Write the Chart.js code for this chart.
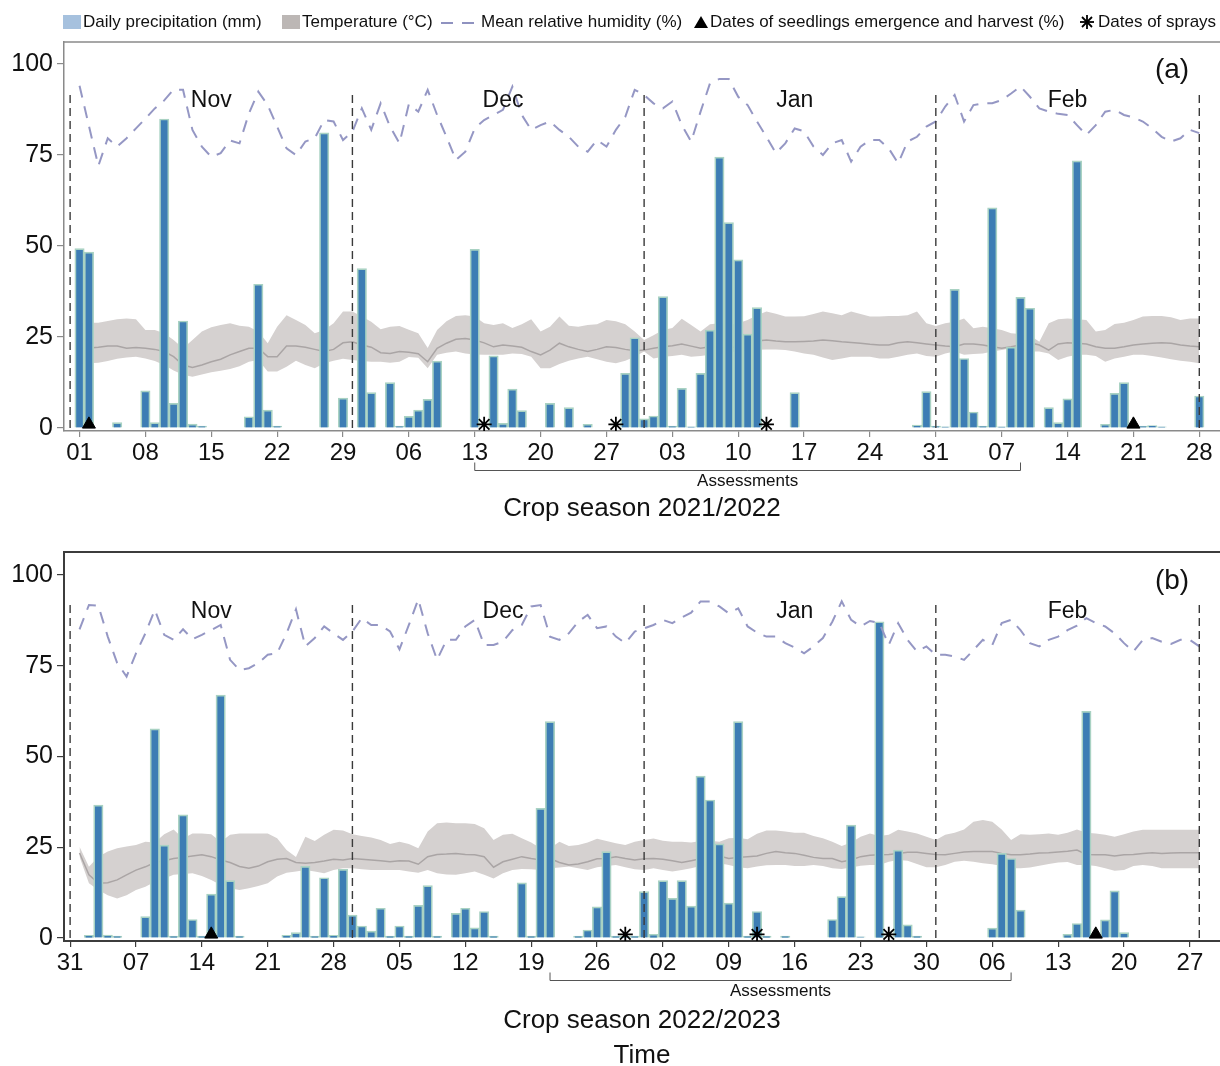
<!DOCTYPE html>
<html>
<head>
<meta charset="utf-8">
<title>Weather during two crop seasons</title>
<script src="https://cdn.jsdelivr.net/npm/chart.js@4.4.1/dist/chart.umd.min.js"></script>
<style>
  html, body { margin: 0; padding: 0; background: #fff; }
  body { width: 1220px; height: 1066px; position: relative; overflow: hidden;
         font-family: "Liberation Sans", Arial, sans-serif; color: #111; }
  canvas { position: absolute; left: 0; }
  #season-a { top: 0; }
  #season-b { top: 530px; }
  #legend { position: absolute; top: 12px; left: 0; width: 1220px; height: 22px;
            font-size: 17px; line-height: 20px; z-index: 2; }
  #legend .item { position: absolute; top: 0; white-space: nowrap; display: flex; align-items: center; }
  #legend .sw { display: inline-block; width: 18px; height: 14px; margin-right: 2px; }
  #legend svg { display: block; }
</style>
</head>
<body>

<div id="legend">
  <span class="item" style="left:63px"><i class="sw" style="background:#a6c1de"></i>Daily precipitation (mm)</span>
  <span class="item" style="left:282px"><i class="sw" style="background:#bcb7b5"></i>Temperature (°C)</span>
  <span class="item" style="left:440px">
    <svg width="41" height="10"><line x1="1" y1="6" x2="13" y2="6" stroke="#8f92c0" stroke-width="2"/><line x1="22" y1="6" x2="34" y2="6" stroke="#8f92c0" stroke-width="2"/></svg>Mean relative humidity (%)</span>
  <span class="item" style="left:694px">
    <svg width="16" height="14"><polygon points="7,1 14,13 0,13" fill="#000"/></svg>Dates of seedlings emergence and harvest (%)</span>
  <span class="item" style="left:1079px">
    <svg width="19" height="16"><g stroke="#000" stroke-width="1.8"><line x1="8" y1="1" x2="8" y2="15"/><line x1="1" y1="8" x2="15" y2="8"/><line x1="3" y1="3" x2="13" y2="13"/><line x1="13" y1="3" x2="3" y2="13"/></g></svg>Dates of sprays</span>
</div>

<canvas id="season-a" width="1220" height="530"></canvas>
<canvas id="season-b" width="1220" height="546"></canvas>

<script>
// Days are counted from 31 October (day 0) in both seasons.

// ---- shared axis layout ----
const monthEdges = [0, 30, 61, 92, 120];
const monthNames = ['Nov', 'Dec', 'Jan', 'Feb'];
const monthLabelDays = [15, 46, 77, 106];
const yTicks = [0, 25, 50, 75, 100];

// ---- season 2021/2022 ----
const tickDaysA = [1, 8, 15, 22, 29, 36, 43, 50, 57, 64, 71, 78, 85, 92, 99, 106, 113, 120];
const tickLabelsA = ['01', '08', '15', '22', '29', '06', '13', '20', '27', '03', '10', '17', '24', '31', '07', '14', '21', '28'];

const rainDaysA = [1, 2, 5, 8, 9, 10, 11, 12, 13, 14, 19, 20, 21, 22, 27, 29, 31, 32, 34, 35, 36, 37, 38, 39,
  43, 45, 46, 47, 48, 51, 53, 55, 59, 60, 61, 62, 63, 64, 65, 66, 67, 68, 69, 70, 71, 72, 73, 77,
  90, 91, 92, 93, 94, 95, 96, 97, 98, 99, 100, 101, 102, 104, 105, 106, 107, 110, 111, 112, 113, 114, 115, 116, 120];
const rainA = [49.3, 48.3, 1.5, 10.2, 1.5, 84.9, 6.8, 29.4, 1.1, 0.5, 3.1, 39.5, 4.9, 0.5, 81.1, 8.2, 43.8, 9.7, 12.5, 0.5, 3.2, 4.9, 7.9, 18.4,
  49.1, 19.8, 1.3, 10.7, 4.8, 6.8, 5.6, 1.0, 15.0, 24.8, 2.5, 3.3, 36.1, 0.5, 10.9, 0.3, 15.0, 26.9, 74.4, 56.4, 46.2, 25.8, 33.1, 9.7,
  0.8, 10.0, 0.5, 0.3, 38.1, 19.1, 4.4, 0.5, 60.5, 0.3, 22.2, 35.9, 32.9, 5.6, 1.5, 8.0, 73.4, 1.0, 9.5, 12.5, 0.5, 0.5, 0.7, 0.3, 8.8];

// daily values, day 1 .. day 120
const tMaxA = [28.5, 28.9, 28.9, 29.4, 29.9, 30.1, 29.9, 26.9, 26.9, 26.0,
  24.2, 21.9, 24.2, 26.5, 27.7, 28.3, 28.8, 28.1, 27.8, 26.5,
  23.3, 27.8, 31.0, 29.7, 28.3, 26.0, 26.9, 28.8, 32.0, 32.0,
  30.6, 29.2, 27.1, 27.8, 28.0, 27.0, 26.0, 22.0, 26.9, 29.3,
  30.8, 31.0, 30.6, 28.8, 28.3, 28.8, 27.5, 28.5, 29.9, 26.5,
  27.8, 30.6, 28.1, 27.8, 28.3, 28.5, 29.7, 29.3, 28.5, 26.5,
  24.2, 25.5, 26.9, 27.5, 30.0, 28.3, 26.5, 28.5, 28.8, 28.3,
  28.8, 29.7, 31.0, 32.0, 31.4, 30.6, 30.6, 30.7, 31.3, 32.0,
  31.5, 31.0, 32.0, 31.3, 30.6, 30.6, 30.8, 30.8, 31.0, 32.0,
  28.8, 28.0, 28.8, 29.2, 30.1, 27.4, 27.8, 27.4, 26.9, 26.0,
  25.8, 25.5, 23.7, 28.8, 29.9, 30.1, 29.9, 29.7, 26.5, 26.9,
  28.6, 28.9, 29.7, 30.6, 30.8, 30.8, 30.4, 29.7, 30.1, 30.1];
const tMinA = [17.6, 17.8, 17.9, 18.4, 19.0, 19.4, 19.6, 19.1, 18.4, 17.3,
  15.8, 14.6, 14.1, 14.7, 15.3, 15.7, 16.2, 17.0, 18.2, 18.7,
  15.5, 15.5, 16.8, 18.5, 17.3, 16.4, 17.8, 18.5, 19.0, 18.7,
  18.4, 18.2, 18.2, 17.9, 18.2, 19.5, 19.3, 16.4, 20.1, 20.7,
  21.0, 20.5, 20.2, 20.1, 20.1, 20.1, 20.5, 20.3, 19.6, 16.4,
  16.4, 17.6, 18.5, 19.1, 19.6, 18.9, 18.2, 17.8, 18.5, 19.6,
  21.0, 19.1, 19.6, 19.8, 20.1, 19.6, 19.8, 20.1, 20.5, 20.8,
  21.0, 21.3, 21.5, 21.6, 21.6, 21.4, 21.0, 20.5, 20.1, 19.4,
  18.7, 19.1, 19.6, 19.6, 19.6, 19.1, 19.1, 19.6, 20.1, 20.5,
  19.8, 19.6, 20.5, 21.0, 20.1, 20.3, 20.5, 21.0, 21.4, 21.9,
  21.2, 21.0, 21.0, 20.5, 18.7, 19.6, 20.1, 20.1, 19.8, 18.2,
  19.1, 19.6, 20.1, 20.1, 19.8, 19.4, 18.9, 18.5, 18.2, 17.8];
const tMeanA = [21.9, 22.0, 22.2, 22.5, 22.5, 21.9, 22.1, 21.9, 21.6, 21.0,
  19.6, 17.3, 16.6, 17.3, 18.2, 18.9, 20.1, 21.0, 21.9, 21.9,
  19.6, 19.6, 22.5, 22.5, 22.2, 21.6, 21.0, 21.6, 23.4, 23.7,
  22.8, 22.2, 20.7, 20.5, 21.0, 20.8, 20.4, 18.2, 21.9, 23.3,
  24.4, 24.6, 24.2, 23.4, 22.3, 22.8, 22.5, 22.2, 21.0, 20.1,
  21.4, 23.3, 22.3, 21.6, 21.0, 21.6, 22.3, 22.1, 21.6, 21.2,
  21.4, 21.9, 22.3, 22.6, 23.1, 22.5, 21.9, 22.3, 22.2, 21.9,
  22.5, 23.4, 23.9, 24.2, 23.9, 23.7, 23.7, 23.8, 23.9, 24.2,
  24.0, 23.7, 23.5, 23.3, 23.0, 22.8, 22.8, 23.4, 23.7, 23.4,
  23.1, 22.8, 22.5, 22.3, 23.1, 23.1, 22.8, 22.3, 21.9, 22.3,
  22.8, 23.4, 22.8, 21.4, 23.1, 23.4, 23.3, 23.1, 22.3, 21.9,
  21.9, 22.3, 22.8, 23.1, 23.3, 23.4, 23.3, 22.8, 22.5, 22.3];
const humidityA = [94.0, 83.0, 72.0, 79.6, 77.3, 79.6, 82.3, 85.0, 87.8, 90.0,
  93.0, 92.9, 81.9, 77.3, 74.5, 75.5, 79.0, 78.2, 86.4, 92.4,
  88.7, 82.8, 76.8, 75.0, 78.7, 79.6, 84.6, 84.2, 79.1, 81.4,
  87.8, 81.9, 89.2, 82.8, 78.2, 89.0, 86.9, 92.9, 86.0, 80.0,
  73.6, 75.9, 82.3, 84.6, 86.0, 87.4, 93.8, 86.0, 81.9, 83.2,
  84.2, 81.9, 80.0, 77.3, 75.9, 79.1, 77.3, 81.9, 85.5, 92.9,
  91.5, 89.2, 87.8, 89.7, 83.2, 78.7, 86.9, 94.7, 95.9, 95.9,
  91.0, 88.7, 84.2, 80.0, 75.5, 78.2, 82.3, 81.5, 77.3, 75.0,
  78.2, 79.1, 73.2, 77.3, 79.1, 79.1, 76.8, 72.7, 78.7, 80.0,
  82.8, 84.2, 88.3, 91.5, 84.2, 88.7, 89.2, 89.2, 90.1, 91.9,
  93.8, 91.0, 87.8, 86.9, 86.3, 86.0, 83.2, 80.5, 83.2, 86.9,
  87.4, 86.0, 85.3, 84.2, 82.3, 80.0, 78.7, 79.6, 81.9, 81.0];
const emergenceA = [2, 113];
const spraysA = [44, 58, 74];

// ---- season 2022/2023 ----
const tickDaysB = [0, 7, 14, 21, 28, 35, 42, 49, 56, 63, 70, 77, 84, 91, 98, 105, 112, 119];
const tickLabelsB = ['31', '07', '14', '21', '28', '05', '12', '19', '26', '02', '09', '16', '23', '30', '06', '13', '20', '27'];

const rainDaysB = [2, 3, 4, 5, 8, 9, 10, 11, 12, 13, 14, 15, 16, 17, 18, 23, 24, 25, 26, 27,
  28, 29, 30, 31, 32, 33, 34, 35, 36, 37, 38, 39, 41, 42, 43, 44, 45, 48, 49, 50,
  51, 54, 55, 56, 57, 58, 59, 60, 61, 62, 63, 64, 65, 66, 67, 68, 69, 70, 71, 72,
  73, 74, 76, 81, 82, 83, 84, 86, 88, 89, 90, 98, 99, 100, 101, 106, 107, 108, 109, 110, 111, 112];
const rainB = [0.7, 36.6, 0.8, 0.5, 5.9, 57.6, 25.6, 0.5, 33.9, 5.1, 0.5, 12.1, 66.9, 15.8, 0.5, 0.7, 1.5, 19.7, 0.5, 16.6,
  0.7, 18.9, 6.3, 3.3, 1.9, 8.2, 0.5, 3.3, 0.5, 9.0, 14.4, 0.5, 6.8, 8.2, 2.8, 7.3, 0.5, 15.2, 0.5, 35.7,
  59.6, 0.5, 2.2, 8.6, 23.8, 0.5, 0.5, 0.5, 12.8, 1.0, 15.8, 10.9, 15.8, 8.8, 44.6, 38.0, 25.9, 9.6, 59.6, 0.5,
  7.3, 0.5, 0.5, 5.1, 11.4, 31.1, 0.3, 87.1, 24.2, 3.6, 0.5, 2.7, 23.3, 21.9, 7.7, 1.0, 4.0, 62.4, 0.5, 5.0, 13.0, 1.5];

const tMaxB = [25.1, 19.6, 22.4, 23.8, 24.7, 25.2, 25.6, 26.5, 26.3, 28.6,
  29.9, 27.4, 28.8, 28.8, 28.6, 26.5, 28.4, 28.8, 28.8, 28.8,
  28.8, 27.5, 24.2, 22.3, 27.9, 26.7, 28.4, 29.8, 29.6, 28.6,
  28.1, 27.7, 27.0, 25.9, 26.5, 25.9, 24.7, 29.3, 31.6, 31.8,
  31.6, 31.6, 31.4, 30.2, 27.0, 28.4, 28.7, 27.5, 26.3, 24.7,
  24.7, 26.5, 25.3, 25.6, 26.3, 27.3, 26.7, 26.1, 25.6, 26.5,
  27.0, 27.4, 26.8, 26.5, 26.5, 26.3, 26.7, 26.8, 26.5, 27.5,
  27.6, 27.2, 28.7, 29.6, 29.6, 29.3, 29.0, 29.0, 28.1, 27.5,
  26.5, 25.3, 26.3, 27.9, 28.8, 28.1, 28.4, 29.8, 29.3, 28.8,
  27.9, 27.0, 28.4, 29.0, 29.9, 32.0, 32.5, 32.0, 29.9, 27.0,
  28.6, 28.4, 28.6, 28.8, 28.4, 29.0, 29.9, 29.0, 28.8, 28.4,
  27.9, 28.6, 29.3, 29.8, 29.8, 29.8, 29.8, 29.8, 29.8, 29.8];
const tMinB = [22.4, 15.1, 13.2, 11.8, 10.9, 11.8, 13.2, 14.1, 15.5, 16.4,
  17.4, 17.6, 17.8, 17.1, 16.0, 14.6, 13.7, 13.2, 13.7, 14.3,
  15.1, 16.9, 18.0, 18.3, 18.7, 18.3, 17.8, 18.7, 19.2, 19.2,
  18.9, 18.7, 18.7, 18.7, 18.7, 18.3, 18.0, 18.7, 17.8, 17.5,
  17.4, 17.8, 18.3, 17.4, 16.4, 17.8, 18.7, 19.0, 18.9, 18.7,
  19.2, 19.4, 19.7, 19.2, 18.7, 19.5, 19.8, 20.1, 19.5, 18.9,
  18.7, 19.2, 18.7, 18.3, 18.7, 19.2, 19.8, 20.1, 20.6, 20.1,
  19.5, 19.2, 19.7, 20.0, 20.1, 20.1, 19.8, 19.8, 20.1, 19.8,
  19.2, 19.0, 19.4, 19.9, 20.1, 20.1, 21.0, 21.5, 21.3, 20.4,
  19.5, 19.5, 20.1, 21.0, 21.3, 21.0, 20.6, 20.3, 19.8, 19.2,
  19.2, 19.4, 19.9, 20.4, 20.8, 20.9, 20.1, 20.1, 19.8, 19.2,
  18.5, 18.7, 19.8, 20.1, 19.8, 19.2, 19.2, 19.2, 19.2, 19.2];
const tMeanB = [23.4, 17.4, 15.1, 15.2, 16.0, 17.4, 18.7, 19.6, 20.8, 21.3,
  21.9, 22.2, 22.6, 22.9, 22.4, 21.5, 20.8, 19.7, 19.2, 19.8,
  21.0, 21.7, 21.9, 20.8, 20.6, 20.8, 21.2, 21.7, 21.5, 21.9,
  21.7, 21.5, 21.3, 21.0, 21.3, 21.2, 20.3, 22.4, 23.0, 23.1,
  23.3, 23.0, 22.9, 22.4, 19.5, 21.0, 21.7, 22.4, 21.9, 21.5,
  21.9, 20.8, 20.1, 20.4, 21.0, 21.8, 21.9, 22.4, 21.9, 21.5,
  21.8, 21.9, 21.7, 21.3, 20.8, 21.3, 21.8, 22.4, 22.6, 21.9,
  22.2, 22.4, 22.6, 23.3, 23.8, 23.5, 23.3, 22.8, 22.2, 21.9,
  21.9, 21.0, 21.5, 22.4, 22.8, 22.9, 23.0, 23.3, 23.6, 23.6,
  23.3, 23.0, 22.9, 23.3, 23.7, 23.8, 23.8, 23.8, 23.3, 22.9,
  22.9, 23.1, 23.4, 23.5, 23.7, 23.9, 24.2, 23.0, 22.9, 22.9,
  22.6, 22.9, 23.0, 23.3, 23.5, 23.3, 23.4, 23.5, 23.5, 23.5];
const humidityB = [85.0, 91.7, 91.5, 83.0, 75.7, 72.0, 78.4, 83.9, 90.4, 83.5,
  82.1, 85.0, 82.3, 83.5, 84.8, 86.2, 76.6, 73.8, 74.3, 75.7,
  78.0, 78.4, 83.9, 90.5, 80.3, 82.6, 85.8, 83.9, 82.1, 84.4,
  88.1, 86.2, 86.2, 84.4, 79.5, 86.2, 93.3, 83.9, 76.6, 82.1,
  82.1, 85.8, 87.6, 80.7, 80.7, 81.6, 84.8, 86.2, 91.3, 91.7,
  83.0, 82.1, 83.9, 87.1, 89.0, 85.3, 85.8, 83.0, 81.2, 84.4,
  85.3, 86.2, 87.6, 86.7, 88.3, 89.6, 92.7, 92.7, 91.3, 89.4,
  90.8, 85.8, 84.1, 83.0, 83.0, 81.2, 80.0, 78.4, 80.3, 82.6,
  87.1, 92.7, 87.6, 85.8, 87.3, 86.7, 80.7, 86.7, 82.1, 78.9,
  80.3, 78.0, 78.0, 77.5, 76.6, 79.3, 82.1, 80.7, 86.7, 87.6,
  84.8, 81.2, 80.3, 82.1, 83.0, 84.8, 86.0, 88.1, 86.7, 85.8,
  83.9, 81.2, 78.9, 82.1, 82.6, 81.6, 81.0, 82.1, 82.1, 80.3];
const emergenceB = [15, 109];
const spraysB = [59, 73, 87];

// ---- look ----
const FONT = '"Liberation Sans", Arial, sans-serif';
const BAR = '#3d7db4';
const BAR_EDGE = '#a9d2c3';
const BAND = '#d5d1d0';
const MEAN = '#aaa5a5';
const RH = '#9597c4';
const EDGE = '#3a3a3a';

Chart.defaults.font.family = FONT;
Chart.defaults.color = '#111';

// month names, panel tag, frame top and the "Assessments" bracket
const panelDecor = {
  id: 'panelDecor',
  afterDatasetsDraw(chart, args, o) {
    const { ctx, chartArea, scales: { x, y } } = chart;
    ctx.save();
    ctx.strokeStyle = o.frameColor;
    ctx.lineWidth = o.frameWidth;
    ctx.beginPath();
    ctx.moveTo(chartArea.left, chartArea.top);
    ctx.lineTo(chartArea.right, chartArea.top);
    ctx.stroke();

    ctx.fillStyle = '#111';
    ctx.textAlign = 'center';
    ctx.textBaseline = 'middle';
    ctx.font = '23px ' + FONT;
    monthNames.forEach((m, i) => {
      ctx.fillText(m, x.getPixelForValue(monthLabelDays[i]), y.getPixelForValue(90));
    });
    ctx.font = '28px ' + FONT;
    ctx.fillText(o.tag, x.getPixelForValue(117.1), y.getPixelForValue(98.3));

    const x0 = x.getPixelForValue(o.assess[0]);
    const x1 = x.getPixelForValue(o.assess[1]);
    const by = chartArea.bottom + 39.5;
    ctx.strokeStyle = '#555';
    ctx.lineWidth = 1;
    ctx.beginPath();
    ctx.moveTo(x0, by - 8);
    ctx.lineTo(x0, by);
    ctx.lineTo(x1, by);
    ctx.lineTo(x1, by - 8);
    ctx.stroke();
    ctx.font = '17px ' + FONT;
    ctx.fillText('Assessments', (x0 + x1) / 2, by + 11);
    ctx.restore();
  },
};

function pts(xs, ys) {
  return xs.map((v, i) => ({ x: v, y: ys[i] }));
}

function drawSeason(canvasId, s) {
  const days = s.humidity.map((_, i) => i + 1);
  const edgeLine = [];
  monthEdges.forEach((d) => edgeLine.push({ x: d, y: 0 }, { x: d, y: 92 }, { x: d, y: null }));
  const marks = (list) => list.map((d) => ({ x: d, y: 1 }));

  return new Chart(document.getElementById(canvasId), {
    type: 'bar',
    data: {
      datasets: [
        { type: 'line', label: 'Tmax', data: pts(days, s.tMax), borderColor: 'transparent', borderWidth: 0,
          pointRadius: 0, fill: '+1', backgroundColor: BAND, order: 7 },
        { type: 'line', label: 'Tmin', data: pts(days, s.tMin), borderColor: 'transparent', borderWidth: 0,
          pointRadius: 0, fill: false, order: 7 },
        { type: 'line', label: 'Tmean', data: pts(days, s.tMean), borderColor: MEAN, borderWidth: 1.5,
          pointRadius: 0, order: 6 },
        { label: 'Daily precipitation (mm)', data: pts(s.rainDays, s.rain), backgroundColor: BAR,
          borderColor: BAR_EDGE, borderWidth: 1.7, barPercentage: 1, categoryPercentage: 1, order: 5 },
        { type: 'line', label: 'Mean relative humidity (%)', data: pts(days, s.humidity), borderColor: RH,
          borderWidth: 2, borderDash: [12, 9], pointRadius: 0, order: 4 },
        { type: 'line', label: 'month edges', data: edgeLine, borderColor: EDGE, borderWidth: 1.4,
          borderDash: [8, 5], pointRadius: 0, spanGaps: false, order: 3 },
        { type: 'line', label: 'emergence / harvest', data: marks(s.emergence), showLine: false,
          pointStyle: 'triangle', pointRadius: 7.5, backgroundColor: '#000', borderColor: '#000', order: 2 },
        { type: 'line', label: 'sprays', data: marks(s.sprays), showLine: false, pointStyle: 'star',
          pointRadius: 7.5, borderColor: '#000', borderWidth: 1.8, order: 1 },
      ],
    },
    options: {
      responsive: false,
      animation: false,
      layout: { autoPadding: false, padding: { top: s.padTop, left: 0, right: 0, bottom: 0 } },
      plugins: {
        legend: { display: false },
        tooltip: { enabled: false },
        panelDecor: { tag: s.tag, assess: s.assess, frameColor: s.frame, frameWidth: s.frameWidth },
      },
      scales: {
        x: {
          type: 'linear', offset: false, min: -0.65, max: 122.2,
          afterBuildTicks: (axis) => { axis.ticks = s.tickDays.map((v) => ({ value: v })); },
          afterFit: (axis) => {
            axis.height = s.axisHeight;
            // the plot runs to the right edge; no room kept for the last label
            axis.paddingLeft = 0;
            axis.paddingRight = 0;
          },
          grid: { offset: false, drawOnChartArea: false, tickLength: 6, color: s.frame, lineWidth: 1.2 },
          border: { color: s.frame, width: s.frameWidth },
          ticks: { autoSkip: false, maxRotation: 0, padding: 2, font: { size: 24 }, color: '#111',
            callback: (v, i) => s.tickLabels[i] },
          title: { display: true, text: s.title, color: '#111', font: { size: 26, lineHeight: 1.35 },
            padding: { top: 0, bottom: s.titlePad } },
        },
        y: {
          min: s.yMin, max: s.yMax,
          afterBuildTicks: (axis) => { axis.ticks = yTicks.map((v) => ({ value: v })); },
          afterFit: (axis) => { axis.width = 64; },
          grid: { drawOnChartArea: false, tickLength: 7, color: s.frame, lineWidth: 1.2 },
          border: { color: s.frame, width: s.frameWidth },
          ticks: { padding: 4, font: { size: 25 }, color: '#111' },
        },
      },
    },
    plugins: [panelDecor],
  });
}

drawSeason('season-a', {
  tag: '(a)', title: 'Crop season 2021/2022', titlePad: 4, padTop: 42, axisHeight: 99,
  yMin: -0.82, yMax: 106.04, frame: '#8a8a8a', frameWidth: 1.5,
  tickDays: tickDaysA, tickLabels: tickLabelsA, assess: [43, 101],
  rainDays: rainDaysA, rain: rainA, tMax: tMaxA, tMin: tMinA, tMean: tMeanA, humidity: humidityA,
  emergence: emergenceA, sprays: spraysA,
});

drawSeason('season-b', {
  tag: '(b)', title: ['Crop season 2022/2023', 'Time'], titlePad: 3, padTop: 22, axisHeight: 135,
  yMin: -0.83, yMax: 106.3, frame: '#3c3c3c', frameWidth: 2,
  tickDays: tickDaysB, tickLabels: tickLabelsB, assess: [51, 100],
  rainDays: rainDaysB, rain: rainB, tMax: tMaxB, tMin: tMinB, tMean: tMeanB, humidity: humidityB,
  emergence: emergenceB, sprays: spraysB,
});
</script>
</body>
</html>
